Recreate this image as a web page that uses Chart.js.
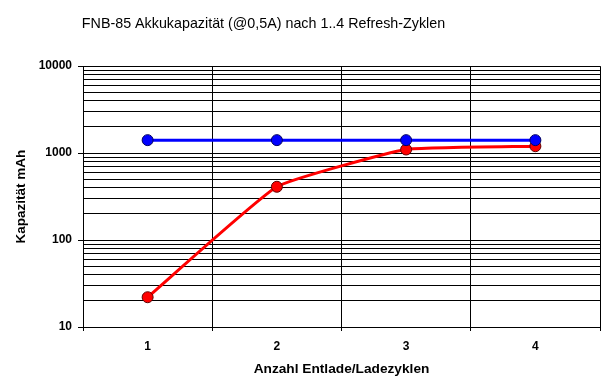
<!DOCTYPE html>
<html>
<head>
<meta charset="utf-8">
<script src="https://cdn.jsdelivr.net/npm/chart.js@4/dist/chart.umd.min.js"></script>
<style>
  html, body { margin: 0; padding: 0; background: #fff; }
  #wrap { width: 608px; height: 384px; }
</style>
</head>
<body>
<div id="wrap"><canvas id="c" width="608" height="384"></canvas></div>
<script>
// data
var cycles = ['1', '2', '3', '4'];
var blueValues = [1410, 1410, 1410, 1410];
var redValues = [22, 410, 1100, 1200];
var yDecades = [10, 100, 1000, 10000];
var yMultipliers = [1, 2, 3, 4, 5, 6, 7, 8, 9];

var titleText = 'FNB-85 Akkukapazit\u00e4t (@0,5A) nach 1..4 Refresh-Zyklen';
var xTitle = 'Anzahl Entlade/Ladezyklen';
var yTitle = 'Kapazit\u00e4t mAh';

// gridline values 10,20..90,100,200..10000
var yGrid = [];
yDecades.slice(0, 3).forEach(function (d) {
  yMultipliers.forEach(function (m) { yGrid.push(d * m); });
});
yGrid.push(10000);

var fontFam = "'Liberation Sans', Arial, sans-serif";

// Excel put the title off-centre, move the title box a bit
var titleShift = {
  id: 'titleShift',
  afterLayout: function (chart) {
    if (chart.titleBlock) {
      chart.titleBlock.left = 0;
      chart.titleBlock.right = 527;
    }
  }
};

var ctx = document.getElementById('c').getContext('2d');
var chart = new Chart(ctx, {
  type: 'line',
  data: {
    labels: cycles,
    datasets: [{
      label: 'blau',
      data: blueValues,
      borderColor: 'rgb(0,0,255)',
      backgroundColor: 'rgb(0,0,255)',
      borderWidth: 3,
      pointRadius: 5.5,
      pointBorderColor: '#000060',
      pointBorderWidth: 1,
      tension: 0
    }, {
      label: 'rot',
      data: redValues,
      borderColor: 'rgb(255,0,0)',
      backgroundColor: 'rgb(255,0,0)',
      borderWidth: 3,
      pointRadius: 5.5,
      pointBorderColor: '#600000',
      pointBorderWidth: 1,
      tension: 0.12
    }]
  },
  options: {
    responsive: false,
    animation: false,
    layout: { padding: { top: 0, right: 8, bottom: 0, left: 0 } },
    plugins: {
      legend: { display: false },
      tooltip: { enabled: false },
      title: {
        display: true,
        text: titleText,
        color: '#000',
        font: { family: fontFam, size: 14.3, weight: 'normal' },
        padding: { top: 15, bottom: 34 }
      }
    },
    scales: {
      x: {
        type: 'category',
        offset: true,
        grid: { offset: true, color: '#000', lineWidth: 1, tickLength: 4, tickColor: '#000' },
        border: { color: '#000', width: 1 },
        ticks: { color: '#000', padding: 8, font: { family: fontFam, size: 12, weight: 'bold' } },
        title: {
          display: true, text: xTitle, color: '#000',
          font: { family: fontFam, size: 13.7, weight: 'bold' },
          padding: { top: 0, bottom: 7 }
        },
        afterFit: function (s) { s.height = 57; }
      },
      y: {
        type: 'logarithmic',
        min: 10,
        max: 10000,
        grid: {
          color: '#000', lineWidth: 1, tickLength: 5,
          tickColor: function (c) {
            return c.tick && yDecades.indexOf(c.tick.value) >= 0 ? '#000' : 'rgba(0,0,0,0)';
          }
        },
        border: { color: '#000', width: 1 },
        ticks: {
          color: '#000', padding: 6, autoSkip: false,
          font: { family: fontFam, size: 12, weight: 'bold' },
          callback: function (v) { return yDecades.indexOf(v) >= 0 ? String(v) : ''; }
        },
        afterBuildTicks: function (s) {
          s.ticks = yGrid.map(function (v) { return { value: v }; });
        },
        title: {
          display: true, text: yTitle, color: '#000',
          font: { family: fontFam, size: 13.5, weight: 'bold' },
          padding: { top: 13, bottom: 0 }
        },
        afterFit: function (s) { s.width = 83; }
      }
    }
  },
  plugins: [titleShift]
});
</script>
</body>
</html>
